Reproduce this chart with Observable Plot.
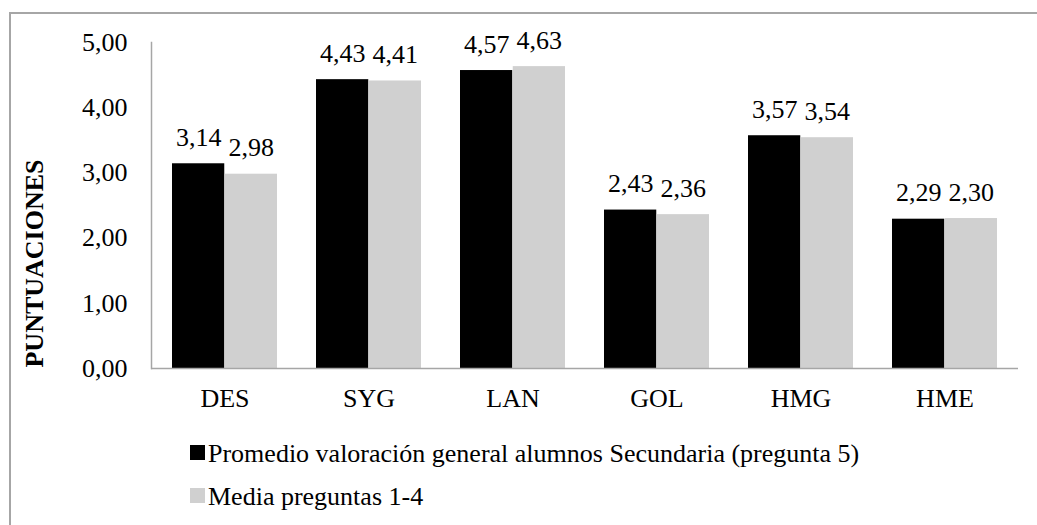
<!DOCTYPE html>
<html><head><meta charset="utf-8">
<script src="https://cdn.jsdelivr.net/npm/d3@7"></script>
<script src="https://cdn.jsdelivr.net/npm/@observablehq/plot@0.6"></script>
<style>
html,body{margin:0;padding:0;background:#fff;overflow:hidden;}
#wrap{position:relative;width:1037px;height:525px;font-family:"Liberation Serif","Times New Roman",serif;}
#frame{position:absolute;left:9px;top:12px;width:1100px;height:600px;border-left:2px solid #a6a6a6;border-top:2px solid #a6a6a6;}
#chart{position:absolute;left:0;top:0;}
#legend{position:absolute;left:190px;top:432px;font-size:26px;line-height:43px;color:#000;white-space:nowrap;}
.sw{display:inline-block;width:15px;height:15px;margin-right:3px;margin-bottom:2px;}
</style></head><body>
<div id="wrap"><div id="frame"></div><div id="chart"></div><div id="legend"></div></div>
<script>
const categories = ["DES","SYG","LAN","GOL","HMG","HME"];
const seriesNames = ["Promedio valoración general alumnos Secundaria (pregunta 5)", "Media preguntas 1-4"];
const promedio = [3.14, 4.43, 4.57, 2.43, 3.57, 2.29];
const media = [2.98, 4.41, 4.63, 2.36, 3.54, 2.30];
const yTicks = [0, 1, 2, 3, 4, 5];
const yTitle = "PUNTUACIONES";
const colors = ["#000000", "#d0d0d0"];

const fmt = v => v.toFixed(2).replace(".", ",");
const rows = categories.map((c, i) => ({c, p: promedio[i], m: media[i]}));

const W = 1037, H = 420, mL = 151, mR = 19, mT = 42, mB = 52;
const pIn = 0.27, pOut = 0.135;
const step = (W - mL - mR) / (categories.length - pIn + 2 * pOut);
const bw = step * (1 - pIn);
const half = bw / 2;
const axisColor = "#a6a6a6";

const chart = Plot.plot({
  width: W, height: H,
  marginLeft: mL, marginRight: mR, marginTop: mT, marginBottom: mB,
  style: {fontFamily: '"Liberation Serif","Times New Roman",serif', fontSize: "26px", background: "transparent", color: "#000", overflow: "visible"},
  x: {domain: categories, paddingInner: pIn, paddingOuter: pOut, label: null},
  y: {domain: [0, 5], label: null},
  marks: [
    Plot.barY(rows, {x: "c", y: "p", fill: colors[0], insetRight: half}),
    Plot.barY(rows, {x: "c", y: "m", fill: colors[1], insetLeft: half}),
    Plot.ruleY([0], {stroke: axisColor, strokeWidth: 1.5}),
    Plot.frame({anchor: "left", stroke: axisColor, strokeWidth: 1.5}),
    Plot.text(rows, {x: "c", y: "p", text: d => fmt(d.p), dx: -half / 2, dy: -18, lineAnchor: "bottom", fontSize: 26, fill: "#000"}),
    Plot.text(rows, {x: "c", y: "m", text: d => fmt(d.m), dx: half / 2, dy: -18, lineAnchor: "bottom", fontSize: 26, fill: "#000"}),
    Plot.axisY({ticks: yTicks, tickSize: 0, tickPadding: 24, tickFormat: fmt, label: null, fontSize: 26}),
    Plot.axisX({tickSize: 0, tickPadding: 20, label: null, fontSize: 26}),
    Plot.text([yTitle], {frameAnchor: "left", textAnchor: "middle", lineAnchor: "middle", rotate: -90, dx: -117, dy: 58, fontWeight: "bold", fontSize: 26, fill: "#000"})
  ]
});
document.getElementById("chart").appendChild(chart);

const legend = document.getElementById("legend");
seriesNames.forEach((name, i) => {
  const row = document.createElement("div");
  const sw = document.createElement("span");
  sw.className = "sw";
  sw.style.background = colors[i];
  row.appendChild(sw);
  row.appendChild(document.createTextNode(name));
  legend.appendChild(row);
});
</script>
</body></html>
